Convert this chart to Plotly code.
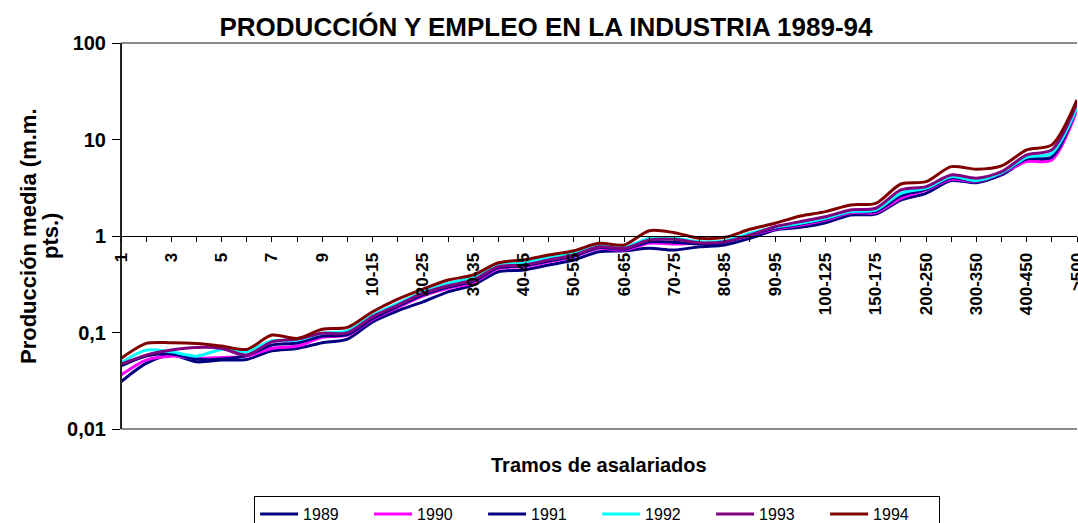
import plotly.graph_objects as go

categories = ["1", "2", "3", "4", "5", "6", "7", "8", "9", "10",
              "10-15", "15-20", "20-25", "25-30", "30-35", "35-40", "40-45", "45-50",
              "50-55", "55-60", "60-65", "65-70", "70-75", "75-80", "80-85", "85-90",
              "90-95", "95-100", "100-125", "125-150", "150-175", "175-200",
              "200-250", "250-300", "300-350", "350-400", "400-450", "450-500", ">500"]

y1989 = [0.0308, 0.0478, 0.0583, 0.0497, 0.0518, 0.0526, 0.0646, 0.0684, 0.0782, 0.0855,
         0.129, 0.168, 0.208, 0.264, 0.310, 0.426, 0.444, 0.500, 0.564, 0.687,
         0.704, 0.745, 0.716, 0.774, 0.807, 0.946, 1.154, 1.23, 1.374, 1.65,
         1.69, 2.36, 2.77, 3.75, 3.57, 4.29, 6.04, 6.40, 21.1]
y1990 = [0.0362, 0.0518, 0.0569, 0.0538, 0.0552, 0.0569, 0.0684, 0.0723, 0.089, 0.094,
         0.137, 0.182, 0.239, 0.287, 0.328, 0.462, 0.481, 0.541, 0.610, 0.745,
         0.716, 0.840, 0.826, 0.840, 0.873, 1.024, 1.173, 1.30, 1.466, 1.745,
         1.745, 2.46, 3.00, 3.87, 3.66, 4.47, 5.90, 6.14, 20.3]
y1991 = [0.045, 0.057, 0.060, 0.053, 0.053, 0.058, 0.074, 0.078, 0.092, 0.095,
         0.140, 0.186, 0.245, 0.295, 0.340, 0.470, 0.490, 0.550, 0.620, 0.760,
         0.730, 0.870, 0.860, 0.830, 0.860, 1.030, 1.200, 1.330, 1.500, 1.780,
         1.800, 2.600, 3.050, 4.000, 3.700, 4.500, 6.300, 6.600, 22.0]
y1992 = [0.0485, 0.0657, 0.0631, 0.0569, 0.0668, 0.0631, 0.082, 0.0834, 0.098, 0.104,
         0.151, 0.200, 0.264, 0.323, 0.373, 0.512, 0.528, 0.601, 0.662, 0.807,
         0.764, 0.946, 0.946, 0.873, 0.894, 1.066, 1.23, 1.355, 1.53, 1.79,
         1.86, 2.77, 3.13, 4.12, 3.75, 4.54, 6.55, 7.21, 21.6]
y1993 = [0.047, 0.0583, 0.0657, 0.070, 0.0684, 0.0583, 0.080, 0.0855, 0.098, 0.099,
         0.146, 0.192, 0.255, 0.305, 0.350, 0.481, 0.500, 0.564, 0.635, 0.774,
         0.745, 0.909, 0.924, 0.852, 0.873, 1.024, 1.249, 1.41, 1.585, 1.86,
         1.94, 3.00, 3.25, 4.29, 3.97, 4.65, 6.92, 7.80, 23.8]
y1994 = [0.0538, 0.0771, 0.0782, 0.077, 0.0723, 0.0668, 0.094, 0.0868, 0.108, 0.113,
         0.164, 0.222, 0.282, 0.350, 0.394, 0.528, 0.564, 0.635, 0.704, 0.840,
         0.807, 1.135, 1.082, 0.946, 0.969, 1.173, 1.355, 1.61, 1.79, 2.10,
         2.18, 3.46, 3.66, 5.23, 4.92, 5.32, 7.80, 8.79, 25.7]

series_names = ["1989", "1990", "1991", "1992", "1993", "1994"]
series_values = [y1989, y1990, y1991, y1992, y1993, y1994]
series_colors = ["#000080", "#FF00FF", "#000080", "#00FFFF", "#800080", "#800000"]

y_tickvals = [0.01, 0.1, 1, 10, 100]
y_ticktext = ["0,01", "0,1", "1", "10", "100"]

FONT = "Arial, 'Liberation Sans', sans-serif"

fig = go.Figure()
for name, vals, col in zip(series_names, series_values, series_colors):
    fig.add_trace(go.Scatter(
        x=categories, y=vals, name=name, mode="lines",
        line=dict(color=col, width=3, shape="spline", smoothing=0.8),
    ))

x_ticktext = [c if i % 2 == 0 else "" for i, c in enumerate(categories)]
n = len(categories)

W, H = 1078, 523

fig.update_layout(
    width=W, height=H,
    margin=dict(l=121, r=1, t=43, b=94, autoexpand=False),
    paper_bgcolor="white", plot_bgcolor="white",
    font=dict(family=FONT, color="black"),
    title=dict(text="PRODUCCIÓN Y EMPLEO EN LA INDUSTRIA 1989-94",
               x=546 / W, xanchor="center", xref="container",
               y=1 - 27 / H, yanchor="middle", yref="container",
               font=dict(size=26, weight="bold", family=FONT, color="black")),
    xaxis=dict(
        type="category", categoryorder="array", categoryarray=categories,
        range=[0, n - 1], anchor="free", position=0.5,
        showline=True, linecolor="black", linewidth=1,
        showgrid=False, zeroline=False,
        tickmode="array", tickvals=categories, ticktext=x_ticktext,
        ticks="outside", ticklen=5, tickcolor="black", tickwidth=1,
        tickangle=-90, ticklabelstandoff=4,
        tickfont=dict(size=17, weight="bold", family=FONT, color="black"),
    ),
    xaxis2=dict(
        type="linear", overlaying="x", anchor="free", position=0.5,
        range=[0, n - 1], tick0=0, dtick=1,
        ticks="inside", ticklen=5, tickcolor="black", tickwidth=1,
        showticklabels=False, showline=False, showgrid=False, zeroline=False,
    ),
    yaxis=dict(
        type="log", range=[-2, 2], anchor="free", position=0,
        showline=True, linecolor="#222222", linewidth=2,
        showgrid=False, zeroline=False,
        tickmode="array", tickvals=y_tickvals, ticktext=y_ticktext,
        ticks="outside", ticklen=8, tickcolor="black", tickwidth=1,
        ticklabelstandoff=2,
        tickfont=dict(size=20, weight="bold", family=FONT, color="black"),
    ),
    yaxis2=dict(
        type="log", range=[-2, 2], overlaying="y", anchor="free", position=0,
        tickmode="array", tickvals=y_tickvals,
        ticks="inside", ticklen=6, tickcolor="black", tickwidth=1,
        showticklabels=False, showline=False, showgrid=False, zeroline=False,
    ),
    legend=dict(
        orientation="h", x=0.498, xanchor="center", y=-0.174, yanchor="top",
        bordercolor="black", borderwidth=1, bgcolor="white",
        font=dict(size=16, family=FONT, color="black"),
        entrywidth=61, entrywidthmode="pixels",
        itemwidth=38, traceorder="normal",
    ),
    showlegend=True,
    shapes=[
        dict(type="line", xref="x domain", yref="y domain", x0=0, x1=1, y0=1, y1=1,
             line=dict(color="#8c8c8c", width=2), layer="below"),
        dict(type="line", xref="x domain", yref="y domain", x0=0, x1=1, y0=0, y1=0,
             line=dict(color="#8c8c8c", width=2), layer="below"),
    ],
    annotations=[
        dict(text="Producción media (m.m.", xref="paper", yref="paper",
             x=(28 - 121) / 956, y=0.5, xanchor="center", yanchor="middle", textangle=-90,
             showarrow=False,
             font=dict(size=22, weight="bold", family=FONT, color="black")),
        dict(text="pts.)", xref="paper", yref="paper",
             x=(50 - 121) / 956, y=0.5, xanchor="center", yanchor="middle", textangle=-90,
             showarrow=False,
             font=dict(size=22, weight="bold", family=FONT, color="black")),
        dict(text="Tramos de asalariados", xref="paper", yref="paper",
             x=0.5, y=-(465 - 429) / 386, xanchor="center", yanchor="middle",
             showarrow=False,
             font=dict(size=20, weight="bold", family=FONT, color="black")),
    ],
)

fig.write_html("out.html",
               config={"displayModeBar": False},
               post_script="document.body.style.margin='0px';"
                           "document.documentElement.style.overflow='hidden';")
